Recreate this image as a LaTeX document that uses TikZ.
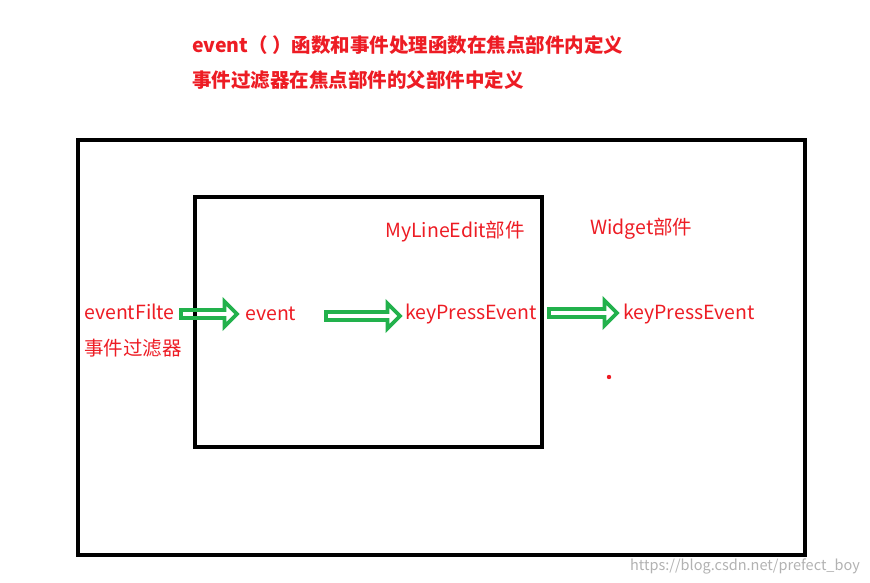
\documentclass[tikz,border=0pt]{standalone}
\usepackage{fontspec}
\setmainfont{Noto Sans CJK SC}
\usetikzlibrary{shapes.arrows}
\definecolor{pred}{RGB}{237,28,36}
\definecolor{pgreen}{RGB}{34,177,76}
\tikzset{
  lbl/.style={anchor=west,inner sep=0pt,text=pred,font=\fontsize{19.5}{22}\selectfont},
  ttl/.style={anchor=west,inner sep=0pt,text=pred,font=\fontsize{19.5}{22}\selectfont\bfseries},
  blk/.style={draw=black,line width=3.5pt},
  flow/.style={single arrow,draw=pgreen,line width=3.8pt,inner sep=0pt,minimum height=#1,minimum width=25pt,single arrow head extend=4pt},
}
\begin{document}
\begin{tikzpicture}[x=1pt,y=-1pt]
  \useasboundingbox (0,0) rectangle (870,583);

  \node[ttl] (t1) at (192,45) {event（ ）函数和事件处理函数在焦点部件内定义};
  \node[ttl] (t2) at (192,80) {事件过滤器在焦点部件的父部件中定义};

  \draw[blk] (78,140) rectangle (805,555);
  \draw[blk] (195,197) rectangle (542,447);

  \node[lbl] (mle) at (385,232) {MyLineEdit部件};
  \node[lbl] (wdg) at (590,229) {Widget部件};
  \node[lbl] (flt) at (84,312) {eventFilte};
  \node[lbl] (fltc) at (84,348) {事件过滤器};
  \node[lbl] (ev) at (245,314) {event};
  \node[lbl] (kp1) at (405,314) {keyPressEvent};
  \node[lbl] (kp2) at (623,314) {keyPressEvent};

  % block arrows
  \node[flow=56pt] (a1) at (207,314) {};
  \node[flow=74pt] (a2) at (361,316) {};
  \node[flow=68pt] (a3) at (581,313) {};

  \fill[pred] (609,377) circle (2.2);
  \node[anchor=east,inner sep=0pt,text=gray!60,font=\fontsize{14.5}{16}\selectfont] (wm) at (860,566) {https://blog.csdn.net/prefect\_boy};
\end{tikzpicture}
\end{document}
